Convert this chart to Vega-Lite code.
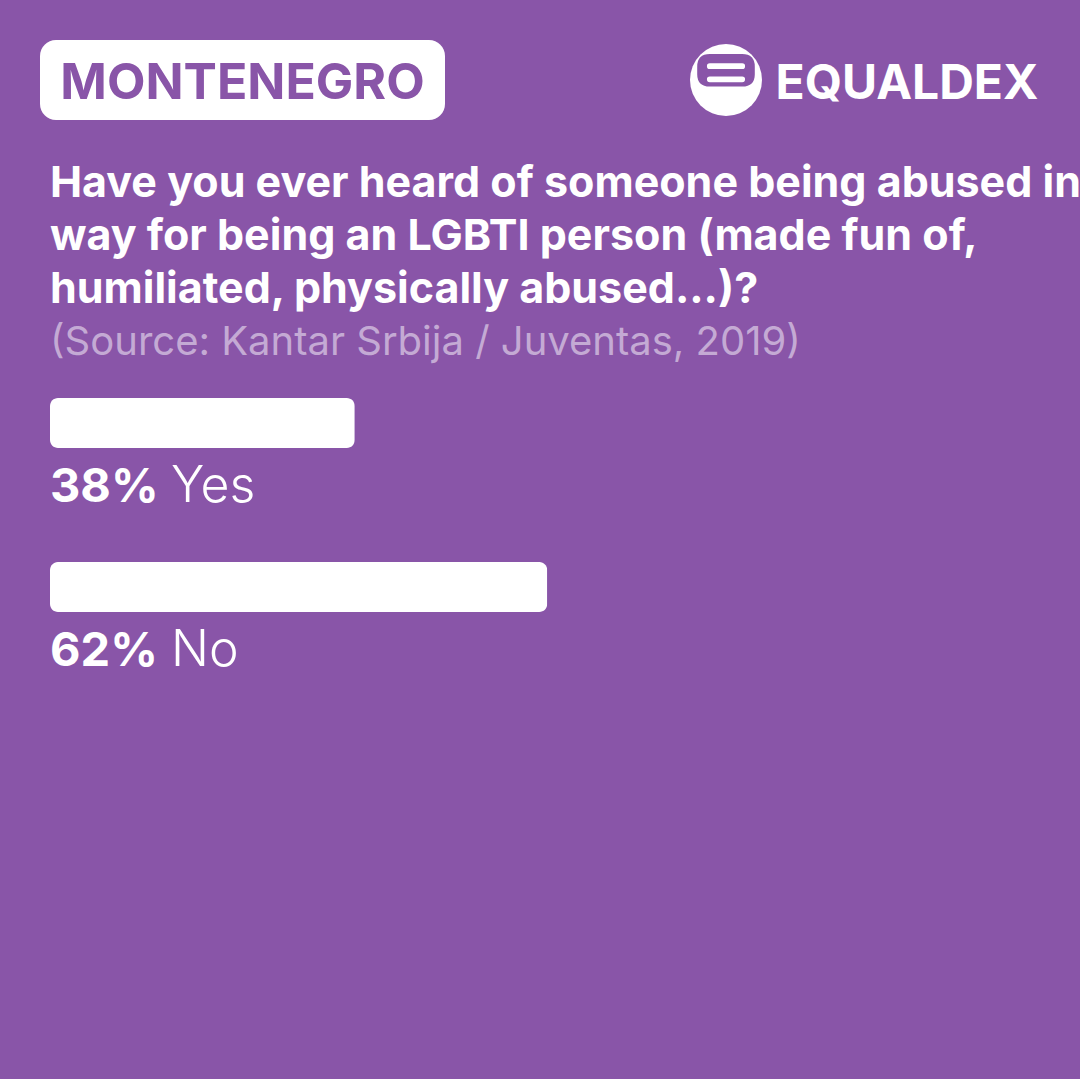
{
  "$schema": "https://vega.github.io/schema/vega-lite/v6.json",
  "background": "#8955A8",
  "padding": {"left": 40, "top": 40, "right": 0, "bottom": 0},
  "autosize": {"type": "pad"},
  "config": {"view": {"stroke": null}},
  "spacing": 43,
  "vconcat": [
    {
      "spacing": 245,
      "hconcat": [
        {
          "width": 405,
          "height": 80,
          "data": {"values": [{"country": "MONTENEGRO"}]},
          "layer": [
            {"mark": {"type": "rect", "color": "white", "cornerRadius": 16}, "encoding": {}},
            {
              "mark": {"type": "text", "font": "Inter", "fontWeight": 700, "fontSize": 50, "color": "#8955A8", "align": "center", "baseline": "alphabetic", "dy": 19},
              "encoding": {"text": {"field": "country", "type": "nominal"}}
            }
          ]
        },
        {
          "spacing": 13,
          "hconcat": [
            {
              "width": 70,
              "height": 80,
              "data": {"values": [{"brand": "EQUALDEX"}]},
              "layer": [
                {"mark": {"type": "point", "shape": "circle", "filled": true, "size": 5184, "color": "white", "opacity": 1, "strokeWidth": 0}, "encoding": {}},
                {"mark": {"type": "point", "shape": "M -0.45 -0.72 L 0.45 -0.72 Q 0.8 -0.72 0.8 -0.37 L 0.8 -0.17 Q 0.8 0.18 0.45 0.18 L -0.45 0.18 Q -0.8 0.18 -0.8 -0.17 L -0.8 -0.37 Q -0.8 -0.72 -0.45 -0.72 Z", "filled": true, "size": 5184, "color": "#8955A8", "opacity": 1, "strokeWidth": 0}, "encoding": {}},
                {"mark": {"type": "point", "shape": "M -0.45 -0.465 L 0.45 -0.465 Q 0.53 -0.465 0.53 -0.385 Q 0.53 -0.305 0.45 -0.305 L -0.45 -0.305 Q -0.53 -0.305 -0.53 -0.385 Q -0.53 -0.465 -0.45 -0.465 Z M -0.45 -0.1 L 0.45 -0.1 Q 0.53 -0.1 0.53 -0.02 Q 0.53 0.06 0.45 0.06 L -0.45 0.06 Q -0.53 0.06 -0.53 -0.02 Q -0.53 -0.1 -0.45 -0.1 Z", "filled": true, "size": 5184, "color": "white", "opacity": 1, "strokeWidth": 0}, "encoding": {}}
              ]
            },
            {
              "width": 254,
              "height": 80,
              "data": {"values": [{"brand": "EQUALDEX"}]},
              "mark": {"type": "text", "font": "Inter", "fontWeight": 700, "fontSize": 48, "color": "white", "align": "center", "baseline": "alphabetic", "dy": 19},
              "encoding": {"text": {"field": "brand", "type": "nominal"}}
            }
          ]
        }
      ]
    },
    {
      "width": 1040,
      "height": 700,
      "title": {
        "text": ["Have you ever heard of someone being abused in any", "way for being an LGBTI person (made fun of,", "humiliated, physically abused...)?"],
        "subtitle": "(Source: Kantar Srbija / Juventas, 2019)",
        "anchor": "start",
        "dx": 10,
        "font": "Inter",
        "fontSize": 43,
        "fontWeight": 700,
        "lineHeight": 53,
        "color": "white",
        "subtitleFont": "Inter",
        "subtitleFontSize": 40,
        "subtitleFontWeight": 400,
        "subtitleColor": "#C4AAD4",
        "subtitleLineHeight": 48,
        "subtitlePadding": 11,
        "offset": 16
      },
      "data": {"values": [{"answer": "Yes", "share": 0.38}, {"answer": "No", "share": 0.62}]},
      "encoding": {
        "y": {"field": "answer", "type": "nominal", "sort": null, "axis": null, "scale": {"type": "band", "range": [19, 233], "paddingInner": 0.6951, "paddingOuter": 0}}
      },
      "layer": [
        {
          "mark": {"type": "bar", "color": "white", "cornerRadius": 8},
          "encoding": {"x": {"field": "share", "type": "quantitative", "axis": null, "scale": {"domain": [0, 1], "range": [10, 812]}}}
        },
        {
          "mark": {"type": "text", "align": "left", "baseline": "alphabetic", "dy": 79, "font": "Inter", "fontWeight": 700, "fontSize": 47, "color": "white"},
          "encoding": {"x": {"datum": 0, "type": "quantitative"}, "text": {"field": "share", "type": "quantitative", "format": ".0%"}}
        },
        {
          "mark": {"type": "text", "align": "left", "baseline": "alphabetic", "dy": 79, "dx": 121, "font": "Inter", "fontWeight": 300, "fontSize": 50, "color": "white"},
          "encoding": {"x": {"datum": 0, "type": "quantitative"}, "text": {"field": "answer", "type": "nominal"}}
        }
      ]
    }
  ]
}
